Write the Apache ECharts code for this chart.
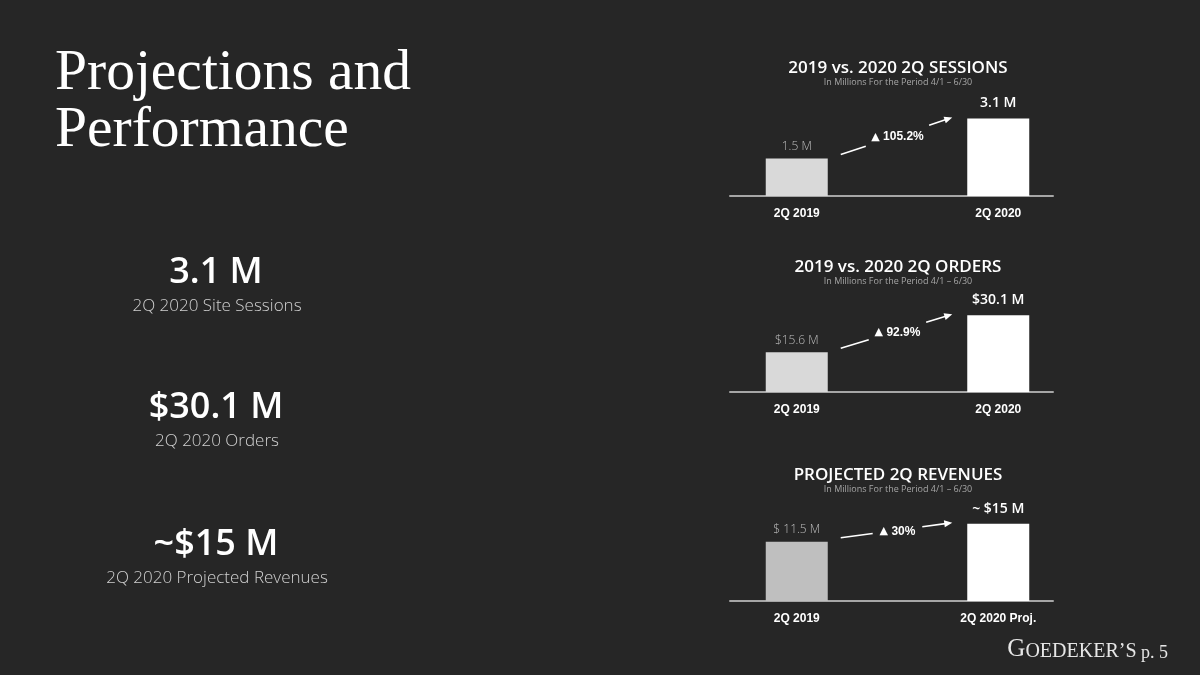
<!DOCTYPE html>
<html><head><meta charset="utf-8">
<script src="https://cdn.jsdelivr.net/npm/echarts@6/dist/echarts.min.js"></script>
<style>html,body{margin:0;padding:0;background:#262626}#c{width:1200px;height:675px}</style>
</head><body><div id="c"></div>
<script>
// ---- data ----
const sessionCats = ['2Q 2019', '2Q 2020'];
const sessionValues = [1.5, 3.1];
const sessionLabels = ['1.5 M', '3.1 M'];
const sessionChange = '105.2%';

const orderCats = ['2Q 2019', '2Q 2020'];
const orderValues = [15.6, 30.1];
const orderLabels = ['$15.6 M', '$30.1 M'];
const orderChange = '92.9%';

const revenueCats = ['2Q 2019', '2Q 2020 Proj.'];
const revenueValues = [11.5, 15];
const revenueLabels = ['$ 11.5 M', '~ $15 M'];
const revenueChange = '30%';

const chartTitles = ['2019 vs. 2020 2Q SESSIONS', '2019 vs. 2020 2Q ORDERS', 'PROJECTED 2Q REVENUES'];
const chartSubtitle = 'In Millions For the Period 4/1 \u2013 6/30';

const kpiValues = ['3.1 M', '$30.1 M', '~$15 M'];
const kpiLabels = ['2Q 2020 Site Sessions', '2Q 2020 Orders', '2Q 2020 Projected Revenues'];

const pageTitle = ['Projections and', 'Performance'];

// ---- layout ----
const panels = [
  {cats: sessionCats, values: sessionValues, labels: sessionLabels, change: sessionChange, max: 4, top: 96, bottom: 479, titleY: 59, firstColor: '#d9d9d9'},
  {cats: orderCats, values: orderValues, labels: orderLabels, change: orderChange, max: 40, top: 290, bottom: 283, titleY: 258, firstColor: '#d9d9d9'},
  {cats: revenueCats, values: revenueValues, labels: revenueLabels, change: revenueChange, max: 20, top: 498, bottom: 74, titleY: 466, firstColor: '#bfbfbf'}
];

const chart = echarts.init(document.getElementById('c'), null, {renderer: 'canvas'});
const SANS = '"Open Sans", "Noto Sans", sans-serif';
const BOLDSANS = '"Liberation Sans", Arial, sans-serif';

const grid = [], xAxis = [], yAxis = [], series = [], title = [];
panels.forEach((p, i) => {
  grid.push({left: 696, right: 101, top: p.top, bottom: p.bottom});
  grid.push({left: 730, right: 147, top: p.top, bottom: p.bottom});
  xAxis.push({type: 'category', gridIndex: 2 * i, data: p.cats,
    axisLine: {show: false}, axisTick: {show: false},
    axisLabel: {color: '#ffffff', fontFamily: BOLDSANS, fontWeight: 'bold', fontSize: 12, margin: 12}});
  xAxis.push({type: 'category', gridIndex: 2 * i + 1, data: p.cats,
    axisLine: {show: true, lineStyle: {color: '#a6a6a6', width: 2}}, axisTick: {show: false}, axisLabel: {show: false}});
  yAxis.push({type: 'value', gridIndex: 2 * i, min: 0, max: p.max, show: false, splitLine: {show: false}});
  yAxis.push({type: 'value', gridIndex: 2 * i + 1, min: 0, max: 1, show: false, splitLine: {show: false}});
  series.push({
    type: 'bar', xAxisIndex: 2 * i, yAxisIndex: 2 * i, barWidth: 62, animation: false,
    data: p.values.map((v, j) => ({
      value: v,
      itemStyle: {color: j === 0 ? p.firstColor : '#ffffff'},
      label: {
        show: true, position: 'top', distance: j === 0 ? 6 : 8,
        formatter: p.labels[j],
        color: j === 0 ? '#bdbdbd' : '#ffffff',
        fontFamily: SANS, fontSize: j === 0 ? 12 : 14, fontWeight: j === 0 ? 300 : 600
      }
    }))
  });
  title.push({
    text: chartTitles[i], subtext: chartSubtitle, left: 898, top: p.titleY, textAlign: 'center', padding: 0, itemGap: -1,
    textStyle: {color: '#ffffff', fontFamily: SANS, fontWeight: 600, fontSize: 17, lineHeight: 19},
    subtextStyle: {color: '#a6a6a6', fontFamily: SANS, fontSize: 9, lineHeight: 10}
  });
});

chart.setOption({
  backgroundColor: '#262626',
  animation: false,
  title, grid, xAxis, yAxis, series
});

// ---- annotations (computed from the axes) ----
const graphics = [];
pageTitle.forEach((t, k) => graphics.push({
  type: 'text', left: 55, top: 45 + k * 57,
  style: {text: t, fill: '#ffffff', font: '57.5px "Liberation Serif", "Times New Roman", serif'}
}));
const kpiY = [273, 408, 545];
kpiValues.forEach((t, k) => {
  graphics.push({type: 'text', x: 216, y: kpiY[k],
    style: {text: t, fill: '#ffffff', font: '600 36px ' + SANS, textAlign: 'center', textVerticalAlign: 'middle'}});
  graphics.push({type: 'text', x: 217, y: kpiY[k] + 33,
    style: {text: kpiLabels[k], fill: '#d0d0d0', font: '300 17px ' + SANS, textAlign: 'center', textVerticalAlign: 'middle'}});
});
graphics.push({type: 'text', right: 32, top: 637,
  style: {rich: {
    g: {fontFamily: '"Liberation Serif", serif', fontSize: 25, fill: '#e6e6e6', verticalAlign: 'bottom'},
    r: {fontFamily: '"Liberation Serif", serif', fontSize: 20, fill: '#e6e6e6', verticalAlign: 'bottom'},
    p: {fontFamily: '"Liberation Serif", serif', fontSize: 18, fill: '#e6e6e6', verticalAlign: 'bottom'}
  }, text: '{g|G}{r|OEDEKER\u2019S}{p| p. 5}'}});

const ctx = document.createElement('canvas').getContext('2d');
ctx.font = 'bold 12px "Liberation Sans", Arial, sans-serif';
panels.forEach((p, i) => {
  const a = chart.convertToPixel({seriesIndex: i}, [0, p.values[0]]);
  const b = chart.convertToPixel({seriesIndex: i}, [1, p.values[1]]);
  const s = [a[0] + 44, a[1] - 4];
  const e = [b[0] - 46, b[1] - 1];
  const dx = e[0] - s[0], dy = e[1] - s[1];
  const len = Math.hypot(dx, dy);
  const ux = dx / len, uy = dy / len;
  const mid = [(s[0] + e[0]) / 2, (s[1] + e[1]) / 2];
  const tw = ctx.measureText(p.change).width + 16;
  const g1 = tw / 2 + 4, g2 = tw / 2 + 6;
  graphics.push({type: 'line', shape: {x1: s[0], y1: s[1], x2: mid[0] - ux * g1, y2: mid[1] - uy * g1}, style: {stroke: '#ffffff', lineWidth: 1.6}});
  graphics.push({type: 'line', shape: {x1: mid[0] + ux * g2, y1: mid[1] + uy * g2, x2: e[0] - ux * 5, y2: e[1] - uy * 5}, style: {stroke: '#ffffff', lineWidth: 1.6}});
  const bx = e[0] - ux * 8, by = e[1] - uy * 8;
  graphics.push({type: 'polygon', shape: {points: [[e[0], e[1]], [bx - uy * 3.5, by + ux * 3.5], [bx + uy * 3.5, by - ux * 3.5]]}, style: {fill: '#ffffff'}});
  graphics.push({type: 'text', x: mid[0] + 1, y: mid[1] + 1,
    style: {rich: {
      t: {fontSize: 11, fill: '#ffffff', fontFamily: 'DejaVu Sans, sans-serif'},
      v: {fontSize: 12, fontWeight: 'bold', fill: '#ffffff', fontFamily: BOLDSANS}
    }, text: '{t|\u25B2} {v|' + p.change + '}', textAlign: 'center', textVerticalAlign: 'middle'}});
});
chart.setOption({graphic: graphics});
</script>
</body></html>
